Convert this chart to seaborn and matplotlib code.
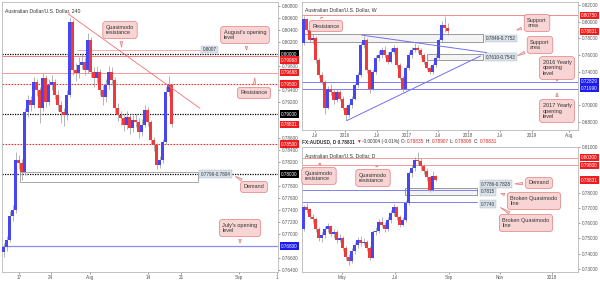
import numpy as np
import pandas as pd
import matplotlib
matplotlib.use("Agg")
import matplotlib.pyplot as plt
import seaborn as sns
from matplotlib.patches import Rectangle

# ---------------- data ----------------
# 4H AUD/USD candles (Jul 13 - Aug 18)
h4_open = [0.7670, 0.7678, 0.7690, 0.7730, 0.7740, 0.7823, 0.7818, 0.7803, 0.7903, 0.7923,
           0.7915, 0.7953, 0.7940, 0.7910, 0.7960, 0.7920, 0.7948, 0.7953, 0.7932, 0.7915,
           0.7903, 0.7898, 0.7932, 0.8053, 0.7973, 0.7968, 0.7982, 0.7987, 0.7973, 0.8023,
           0.7970, 0.7960, 0.7970, 0.7940, 0.7928, 0.7948, 0.7970, 0.7957, 0.7910, 0.7898,
           0.7893, 0.7882, 0.7895, 0.7877, 0.7890, 0.7887, 0.7870, 0.7882, 0.7907, 0.7887,
           0.7857, 0.7848, 0.7815, 0.7823, 0.7853, 0.7937, 0.7948]
h4_close = [0.7678, 0.7690, 0.7730, 0.7740, 0.7823, 0.7818, 0.7803, 0.7903, 0.7923, 0.7915,
            0.7953, 0.7940, 0.7910, 0.7960, 0.7920, 0.7948, 0.7953, 0.7932, 0.7915, 0.7903,
            0.7898, 0.7932, 0.8053, 0.7973, 0.7968, 0.7982, 0.7987, 0.7973, 0.8023, 0.7970,
            0.7960, 0.7970, 0.7940, 0.7928, 0.7948, 0.7970, 0.7957, 0.7910, 0.7898, 0.7893,
            0.7882, 0.7895, 0.7877, 0.7890, 0.7887, 0.7870, 0.7882, 0.7907, 0.7887, 0.7857,
            0.7848, 0.7815, 0.7823, 0.7853, 0.7937, 0.7948, 0.7883]
h4_high = [0.7685, 0.7696, 0.7738, 0.7748, 0.7836, 0.7832, 0.7825, 0.7910, 0.7932, 0.7930,
           0.7962, 0.7958, 0.7945, 0.7968, 0.7965, 0.7958, 0.7965, 0.7958, 0.7940, 0.7922,
           0.7910, 0.7940, 0.8062, 0.8058, 0.7985, 0.7995, 0.8000, 0.7995, 0.8035, 0.8028,
           0.7978, 0.7980, 0.7975, 0.7948, 0.7958, 0.7980, 0.7978, 0.7962, 0.7918, 0.7905,
           0.7900, 0.7905, 0.7900, 0.7898, 0.7900, 0.7893, 0.7892, 0.7915, 0.7912, 0.7890,
           0.7862, 0.7852, 0.7830, 0.7858, 0.7945, 0.7963, 0.7952]
h4_low = [0.7662, 0.7672, 0.7686, 0.7722, 0.7735, 0.7808, 0.7790, 0.7798, 0.7895, 0.7905,
          0.7910, 0.7930, 0.7885, 0.7905, 0.7912, 0.7915, 0.7940, 0.7925, 0.7905, 0.7885,
          0.7880, 0.7890, 0.7928, 0.7965, 0.7955, 0.7960, 0.7975, 0.7965, 0.7968, 0.7962,
          0.7945, 0.7952, 0.7932, 0.7915, 0.7920, 0.7942, 0.7948, 0.7902, 0.7888, 0.7882,
          0.7872, 0.7875, 0.7866, 0.7870, 0.7878, 0.7860, 0.7864, 0.7878, 0.7880, 0.7850,
          0.7838, 0.7808, 0.7810, 0.7818, 0.7850, 0.7930, 0.7878]
h4_tick_pos = [5.2, 15.8, 28.8, 48.2, 59.2, 78.5, 91.2]
h4_tick_lab = ["17", "24", "Aug", "14", "21", "Sep", "1"]

# Weekly candles (Apr 2015 - Aug 2017)
wk_open = [0.7750, 0.8030, 0.7900, 0.7780, 0.7810, 0.7540, 0.7360, 0.7280, 0.6970, 0.7200,
           0.7160, 0.7060, 0.7160, 0.7080, 0.6970, 0.6880, 0.7000, 0.7080, 0.7240, 0.7360,
           0.7720, 0.7780, 0.7420, 0.7200, 0.7400, 0.7570, 0.7600, 0.7660, 0.7600, 0.7520,
           0.7640, 0.7690, 0.7480, 0.7330, 0.7200, 0.7450, 0.7600, 0.7660, 0.7690, 0.7660,
           0.7600, 0.7520, 0.7450, 0.7400, 0.7480, 0.7570, 0.7780, 0.7960, 0.7925]
wk_close = [0.8030, 0.7900, 0.7780, 0.7810, 0.7540, 0.7360, 0.7280, 0.6970, 0.7200, 0.7160,
            0.7060, 0.7160, 0.7080, 0.6970, 0.6880, 0.7000, 0.7080, 0.7240, 0.7360, 0.7720,
            0.7780, 0.7420, 0.7200, 0.7400, 0.7570, 0.7600, 0.7660, 0.7600, 0.7520, 0.7640,
            0.7690, 0.7480, 0.7330, 0.7200, 0.7450, 0.7600, 0.7660, 0.7690, 0.7660, 0.7600,
            0.7520, 0.7450, 0.7400, 0.7480, 0.7570, 0.7780, 0.7960, 0.7925, 0.7883]
wk_high = [0.8065, 0.8045, 0.7920, 0.7850, 0.7830, 0.7560, 0.7400, 0.7300, 0.7230, 0.7260,
           0.7190, 0.7190, 0.7180, 0.7110, 0.6990, 0.7030, 0.7110, 0.7270, 0.7400, 0.7750,
           0.7835, 0.7800, 0.7440, 0.7430, 0.7600, 0.7660, 0.7700, 0.7710, 0.7640, 0.7680,
           0.7720, 0.7700, 0.7510, 0.7350, 0.7480, 0.7640, 0.7700, 0.7745, 0.7720, 0.7690,
           0.7620, 0.7540, 0.7470, 0.7510, 0.7600, 0.7810, 0.8010, 0.8070, 0.7985]
wk_low = [0.7720, 0.7880, 0.7760, 0.7730, 0.7510, 0.7330, 0.7250, 0.6900, 0.6950, 0.7120,
          0.7020, 0.7040, 0.7050, 0.6940, 0.6826, 0.6860, 0.6970, 0.7060, 0.7220, 0.7340,
          0.7690, 0.7390, 0.7150, 0.7180, 0.7380, 0.7530, 0.7570, 0.7570, 0.7490, 0.7500,
          0.7610, 0.7450, 0.7300, 0.7160, 0.7180, 0.7420, 0.7570, 0.7640, 0.7620, 0.7560,
          0.7490, 0.7420, 0.7370, 0.7380, 0.7460, 0.7550, 0.7760, 0.7880, 0.7840]
wk_tick_pos = [3.8, 13.8, 24.5, 34.5, 44.8, 54.8, 65.5, 76.2, 88.5]
wk_tick_lab = ["Jul", "2016", "Jul", "2017", "Jul", "2018", "Jul", "2019", "Aug"]

# Daily candles (Mar - Aug 2017)
d_open = [0.7560, 0.7705, 0.7690, 0.7640, 0.7625, 0.7560, 0.7500, 0.7520, 0.7560, 0.7580,
          0.7530, 0.7545, 0.7490, 0.7505, 0.7440, 0.7380, 0.7350, 0.7420, 0.7455, 0.7490,
          0.7470, 0.7480, 0.7440, 0.7375, 0.7540, 0.7550, 0.7610, 0.7590, 0.7560, 0.7620,
          0.7670, 0.7705, 0.7640, 0.7590, 0.7620, 0.7735, 0.7930, 0.7960, 0.8015, 0.8005,
          0.7975, 0.7945, 0.7900, 0.7818, 0.7910]
d_close = [0.7705, 0.7690, 0.7640, 0.7625, 0.7560, 0.7500, 0.7520, 0.7560, 0.7580, 0.7530,
           0.7545, 0.7490, 0.7505, 0.7440, 0.7380, 0.7350, 0.7420, 0.7455, 0.7490, 0.7470,
           0.7480, 0.7440, 0.7375, 0.7540, 0.7550, 0.7610, 0.7590, 0.7560, 0.7620, 0.7670,
           0.7705, 0.7640, 0.7590, 0.7620, 0.7735, 0.7930, 0.7960, 0.8015, 0.8005, 0.7975,
           0.7945, 0.7900, 0.7818, 0.7910, 0.7883]
d_high = [0.7720, 0.7735, 0.7700, 0.7660, 0.7640, 0.7575, 0.7545, 0.7580, 0.7600, 0.7590,
          0.7565, 0.7555, 0.7530, 0.7515, 0.7450, 0.7400, 0.7435, 0.7475, 0.7510, 0.7515,
          0.7500, 0.7490, 0.7450, 0.7555, 0.7575, 0.7630, 0.7640, 0.7610, 0.7640, 0.7690,
          0.7725, 0.7715, 0.7655, 0.7640, 0.7750, 0.7945, 0.7985, 0.8035, 0.8065, 0.8030,
          0.7990, 0.7960, 0.7910, 0.7940, 0.7915]
d_low = [0.7550, 0.7670, 0.7625, 0.7600, 0.7540, 0.7485, 0.7480, 0.7505, 0.7540, 0.7515,
         0.7505, 0.7470, 0.7480, 0.7420, 0.7360, 0.7328, 0.7340, 0.7400, 0.7440, 0.7450,
         0.7455, 0.7420, 0.7360, 0.7370, 0.7525, 0.7535, 0.7575, 0.7545, 0.7550, 0.7600,
         0.7650, 0.7620, 0.7575, 0.7580, 0.7610, 0.7720, 0.7905, 0.7940, 0.7985, 0.7950,
         0.7925, 0.7880, 0.7808, 0.7812, 0.7878]
d_tick_pos = [12.8, 30.5, 48.5, 65.5, 82.8]
d_tick_lab = ["May", "Jul", "Sep", "Nov", "2018"]

# key levels
h4_black_levels = [0.8000, 0.7900, 0.7800]
h4_red_solid = [0.79968, 0.79688]
h4_red_dotted = [0.7950, 0.7850]
h4_blue_level = 0.7680
h4_aug_open = 0.8007
h4_trend_x = [21.6, 65.5]
h4_trend_y = [0.80667, 0.79095]
h4_demand = (0.7787, 0.7804)

wk_resist = 0.8075
wk_blue_levels = [0.72829, 0.71990]
wk_zone1 = (0.7752, 0.7849)
wk_zone2 = (0.7543, 0.7610)
wk_desc_x = [19.4, 61.1]
wk_desc_y = [0.7840, 0.7630]
wk_asc_x = [14.4, 59.0]
wk_asc_y = [0.6816, 0.7590]

d_red_levels = [0.8030, 0.7980]
d_blue_levels = [0.7815, 0.7740]
d_demand = (0.7786, 0.7828)

last_price = 0.78831

# ---------------- style ----------------
sns.set_theme(style="white")
plt.rcParams['font.family'] = ['Liberation Sans', 'DejaVu Sans']

UP = '#4646f2'
DOWN = '#ee3a3a'
WICK = '#a0a0a0'
SPINE = '#b8b8b8'
TXT = '#555555'
PINK_FC = '#f9d4d4'
PINK_EC = '#e27d7d'
TAG_FC = '#d9e2ea'

W, H = 600, 282
fig = plt.figure(figsize=(W / 100, H / 100), dpi=100)
fig.patch.set_facecolor('white')


def ax_px(x0, y0, x1, y1):
    return fig.add_axes([x0 / W, 1 - y1 / H, (x1 - x0) / W, (y1 - y0) / H])


def candles(ax, o, h, l, c, min_body):
    df = pd.DataFrame({'o': o, 'h': h, 'l': l, 'c': c})
    df['i'] = np.arange(len(df))
    up = df['c'] >= df['o']
    ax.vlines(df['i'], df['l'], df['h'], color=WICK, lw=0.55, zorder=3)
    body = (df['c'] - df['o']).abs().clip(lower=min_body)
    ax.bar(df['i'], body, bottom=df[['o', 'c']].min(axis=1), width=0.67,
           color=np.where(up, UP, DOWN), linewidth=0, zorder=4)


def style_axis(ax, xlim, ylim, yticks, xticks, xlabels):
    ax.set_xlim(*xlim)
    ax.set_ylim(*ylim)
    ax.yaxis.tick_right()
    ax.set_yticks(yticks)
    ax.set_yticklabels([f"{v:.5f}" for v in yticks])
    ax.set_xticks(xticks)
    ax.set_xticklabels(xlabels)
    ax.tick_params(axis='both', labelsize=3.3, colors=TXT, length=1.5, width=0.4, pad=1)
    ax.tick_params(axis='y', right=True, left=False)
    ax.tick_params(axis='x', bottom=True)
    for s in ax.spines.values():
        s.set_color(SPINE)
        s.set_linewidth(0.6)
    ax.grid(False)


def price_tag(ax, y, text, fc, tc='white'):
    ax.text(1.012, y, text, transform=ax.get_yaxis_transform(), fontsize=3.3,
            color=tc, va='center', ha='left', clip_on=False, zorder=10,
            bbox=dict(boxstyle='square,pad=0.25', fc=fc, ec='none'))


def zone_tag(ax, x, y, text):
    ax.text(x, y, text, fontsize=3.3, color='#333333', va='center', ha='left', zorder=9,
            bbox=dict(boxstyle='square,pad=0.25', fc=TAG_FC, ec='#a9b6c2', lw=0.3))


def callout(text, center, tip):
    return plt.annotate(text, xy=(tip[0], H - tip[1]), xycoords='figure pixels',
                        xytext=(center[0], H - center[1]), textcoords='figure pixels',
                        ha='center', va='center', fontsize=4.0, color='#333333',
                        multialignment='left', zorder=20,
                        bbox=dict(boxstyle='round,pad=0.55,rounding_size=0.5',
                                  fc=PINK_FC, ec=PINK_EC, lw=0.5),
                        arrowprops=dict(arrowstyle='wedge,tail_width=0.45,shrink_factor=0.5',
                                        fc=PINK_FC, ec=PINK_EC, lw=0.5))


def hline(ax, y, color, lw=0.6, ls='-', x0=None, x1=None, z=2):
    if x0 is None:
        ax.axhline(y, color=color, lw=lw, ls=ls, zorder=z)
    else:
        ax.plot([x0, x1], [y, y], color=color, lw=lw, ls=ls, zorder=z)


# ---------------- Left panel: 4H ----------------
ax1 = ax_px(2, 2, 278, 272)
h4_yticks = [0.764, 0.766, 0.770, 0.772, 0.774, 0.776, 0.778, 0.782, 0.784, 0.786,
             0.792, 0.794, 0.798, 0.802, 0.804, 0.806, 0.808]
style_axis(ax1, (-0.5, 91.5), (0.76367, 0.80867), h4_yticks, h4_tick_pos, h4_tick_lab)

for lv in h4_black_levels:
    hline(ax1, lv, 'black', lw=0.9, ls=(0, (1, 1)))
hline(ax1, h4_red_solid[0], '#f06a6a', lw=0.6)
hline(ax1, h4_red_solid[1], '#f28c8c', lw=0.6)
for lv in h4_red_dotted:
    hline(ax1, lv, '#f03030', lw=0.8, ls=(0, (1.5, 1.2)))
hline(ax1, h4_blue_level, '#8c8cf5', lw=0.9)
hline(ax1, h4_aug_open, '#f5a0a0', lw=0.6, x0=24.5, x1=65.5)
ax1.plot(h4_trend_x, h4_trend_y, color='#f07070', lw=0.6, zorder=5)
ax1.add_patch(Rectangle((5.5, h4_demand[0]), 59.3, h4_demand[1] - h4_demand[0],
                        fill=False, ec='#9a9a9a', lw=0.6, zorder=2))
candles(ax1, h4_open, h4_high, h4_low, h4_close, 0.00012)
zone_tag(ax1, 66.3, h4_aug_open, "0.8007")
zone_tag(ax1, 65.7, 0.7800, "0.7796-0.7804")
ax1.text(0.012, 0.975, "Australian Dollar/U.S. Dollar, 240", transform=ax1.transAxes,
         fontsize=3.7, color='#333333', va='top', ha='left')

price_tag(ax1, 0.80000, "0.80000", 'black')
price_tag(ax1, 0.79900, "0.79968", '#ee1c1c')
price_tag(ax1, 0.79688, "0.79688", '#ee1c1c')
price_tag(ax1, 0.79500, "0.79500", '#ee1c1c')
price_tag(ax1, 0.79000, "0.79000", 'black')
price_tag(ax1, 0.78831, "0.78831", '#ee1c1c')
price_tag(ax1, 0.78500, "0.78500", '#ee1c1c')
price_tag(ax1, 0.78000, "0.78000", 'black')
price_tag(ax1, 0.76800, "0.76800", '#1c1cee')

# ---------------- Top right: Weekly ----------------
ax2 = ax_px(302, 2, 578, 130)
wk_yticks = [0.68, 0.70, 0.74, 0.76, 0.78, 0.80, 0.82]
style_axis(ax2, (-0.5, 91.5), (0.6704, 0.8236), wk_yticks, wk_tick_pos, wk_tick_lab)
hline(ax2, wk_resist, '#f08c8c', lw=0.7)
for lv in wk_blue_levels:
    hline(ax2, lv, '#7c7cf2', lw=0.7)
ax2.add_patch(Rectangle((-0.5, wk_zone1[0]), 60.3, wk_zone1[1] - wk_zone1[0],
                        fc='#f4f4f4', ec='#8a8a8a', lw=0.6, zorder=1))
ax2.add_patch(Rectangle((41.2, wk_zone2[0]), 18.6, wk_zone2[1] - wk_zone2[0],
                        fc='#f4f4f4', ec='#8a8a8a', lw=0.6, zorder=1))
ax2.plot(wk_desc_x, wk_desc_y, color='#7070ee', lw=0.7, zorder=5)
ax2.plot(wk_asc_x, wk_asc_y, color='#7070ee', lw=0.7, zorder=5)
candles(ax2, wk_open, wk_high, wk_low, wk_close, 0.0008)
zone_tag(ax2, 60.8, 0.7800, "0.7849-0.7752")
zone_tag(ax2, 60.8, 0.7577, "0.7610-0.7543")
ax2.text(0.012, 0.96, "Australian Dollar/U.S. Dollar, W", transform=ax2.transAxes,
         fontsize=3.7, color='#333333', va='top', ha='left')
price_tag(ax2, 0.80750, "0.80750", '#ee1c1c')
price_tag(ax2, last_price, "0.78831", '#ee1c1c')
price_tag(ax2, 0.72829, "0.72829", '#1c1cee')
price_tag(ax2, 0.71990, "0.71990", '#1c1cee')

# ---------------- Bottom right: Daily ----------------
ax3 = ax_px(302, 147, 578, 272)
d_yticks = [0.73, 0.74, 0.75, 0.76, 0.77, 0.78, 0.81]
style_axis(ax3, (-0.5, 91.5), (0.7280, 0.8100), d_yticks, d_tick_pos, d_tick_lab)
for lv in d_red_levels:
    hline(ax3, lv, '#f29a9a', lw=0.7)
for lv in d_blue_levels:
    hline(ax3, lv, '#8080f0', lw=0.7, x0=-0.5, x1=57.8)
ax3.add_patch(Rectangle((33.8, d_demand[0]), 24.0, d_demand[1] - d_demand[0],
                        fc='#f4f4f4', ec='#8a8a8a', lw=0.6, zorder=1))
candles(ax3, d_open, d_high, d_low, d_close, 0.0004)
zone_tag(ax3, 59.2, 0.7857, "0.7786-0.7828")
zone_tag(ax3, 59.2, 0.7805, "0.7815")
zone_tag(ax3, 59.2, 0.7726, "0.7740")
ax3.text(0.012, 0.95, "Australian Dollar/U.S. Dollar, D", transform=ax3.transAxes,
         fontsize=3.7, color='#333333', va='top', ha='left')
price_tag(ax3, 0.80300, "0.80300", '#ee1c1c')
price_tag(ax3, 0.79800, "0.79800", '#ee1c1c')
price_tag(ax3, last_price, "0.78831", '#ee1c1c')

# header line above daily panel
renderer = fig.canvas.get_renderer()
hx = 302.0
parts = [("FX:AUDUSD, D 0.78831", '#333333'), ("\u25BC", '#e02020'),
         ("-0.00004 (-0.01%) O:", '#333333'), ("0.78835", '#e02020'), ("H:", '#333333'),
         ("0.78907", '#e02020'), ("L:", '#333333'), ("0.78808", '#e02020'),
         ("C:", '#333333'), ("0.78831", '#e02020')]
for s, col in parts:
    t = fig.text(hx / W, 1 - 141.5 / H, s, color=col, fontsize=3.4, va='center', ha='left',
                 fontweight='bold' if s.startswith("FX") else 'normal')
    bb = t.get_window_extent(renderer=renderer)
    hx += bb.width + 1.2

# ---------------- callouts ----------------
callout("Quasimodo\nresistance", (120, 30), (122, 50))
callout("August's opening\nlevel", (245, 35), (247, 53))
callout("Resistance", (254, 93), (255, 75))
callout("Demand", (254, 187), (233, 175))
callout("July's opening\nlevel", (240, 228), (240, 246))

callout("Resistance", (326, 26), (320, 15))
callout("Support\narea", (537, 23), (514, 31))
callout("Support\narea", (540, 45), (515, 57))
callout("2016 Yearly\nopening\nlevel", (557, 68), (557, 81))
callout("2017 Yearly\nopening\nlevel", (557, 111), (557, 90))

callout("Quasimodo\nresistance", (319, 176), (320, 160))
callout("Quasimodo\nresistance", (373, 178), (377, 166))
callout("Demand", (539, 183), (512, 184))
callout("Broken Quasimodo\nline", (534, 201), (498, 193))
callout("Broken Quasimodo\nline", (526, 223), (498, 206))

fig.savefig("out.png", dpi=100, facecolor='white')
